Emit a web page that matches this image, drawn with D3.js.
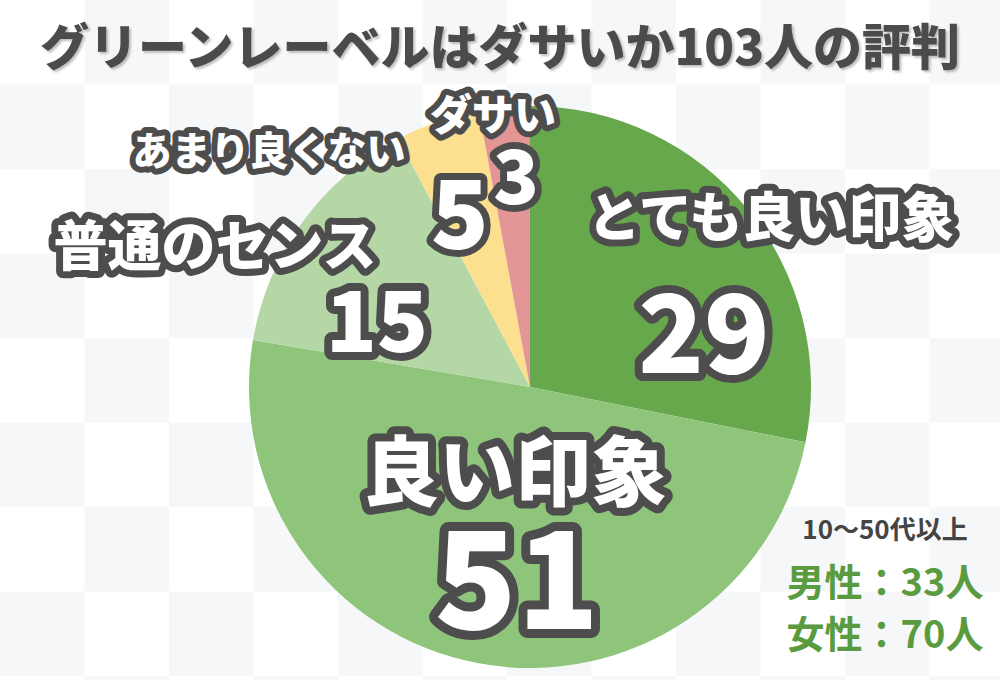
<!DOCTYPE html>
<html><head><meta charset="utf-8">
<script src="https://cdn.jsdelivr.net/npm/d3@7/dist/d3.min.js"></script>
<style>
html,body{margin:0;padding:0;background:#fff;}
svg{display:block;font-family:"Noto Sans CJK JP","Noto Sans",sans-serif;}
.lab{fill:#fff;stroke:#4d4d4d;paint-order:stroke;stroke-linejoin:round;font-weight:900;text-anchor:middle;dominant-baseline:central;}
</style>
</head><body>
<svg id="c" width="1000" height="680"></svg>
<script>
const title = "グリーンレーベルはダサいか103人の評判";
const categories = ["とても良い印象", "良い印象", "普通のセンス", "あまり良くない", "ダサい"];
const values = [29, 51, 15, 5, 3];
const colors = ["#67a84c", "#8fc47b", "#b5d7a5", "#fde08f", "#e49697"];
const noteLines = ["10〜50代以上", "男性：33人", "女性：70人"];

const svg = d3.select("#c");
const W = 1000, H = 680;

// checkered background
const sq = 84.5;
const bg = svg.append("g");
for (let r = 0; r * sq < H; r++) {
  for (let c = 0; c * sq < W; c++) {
    if ((r + c) % 2 === 1) {
      bg.append("rect").attr("x", c * sq).attr("y", r * sq)
        .attr("width", sq).attr("height", sq).attr("fill", "#f5f7f9");
    }
  }
}

// title
const defs = svg.append("defs");
const f = defs.append("filter").attr("id", "sh").attr("x", "-5%").attr("y", "-20%").attr("width", "110%").attr("height", "140%");
f.append("feDropShadow").attr("dx", 2).attr("dy", 2).attr("stdDeviation", 1).attr("flood-color", "#000").attr("flood-opacity", 0.25);
svg.append("text").text(title)
  .attr("x", 500).attr("y", 43)
  .attr("text-anchor", "middle").attr("dominant-baseline", "central")
  .attr("font-size", 49).attr("font-weight", 900).attr("fill", "#4b4b4b")
  .attr("filter", "url(#sh)");

// pie
const cx = 530, cy = 387, R = 281;
const pie = d3.pie().sort(null).value(d => d)(values);
const arc = d3.arc().innerRadius(0).outerRadius(R);
const g = svg.append("g").attr("transform", `translate(${cx},${cy})`);
g.selectAll("path").data(pie).join("path")
  .attr("d", arc).attr("fill", (d, i) => colors[i]);

// labels layout
const layout = [
  {c: [771, 214], cs: 53, v: [704, 326], vs: 108, sw: 14},
  {c: [515, 467], cs: 76, v: [517, 570], vs: 135, sw: 16},
  {c: [215, 242], cs: 54, v: [377, 315], vs: 84, sw: 14},
  {c: [269, 148], cs: 39, v: [460, 207], vs: 95, sw: 12},
  {c: [493, 111], cs: 42, v: [516, 171], vs: 75, sw: 12}
];
const lg = svg.append("g");
categories.forEach((cat, i) => {
  const L = layout[i];
  lg.append("text").attr("class", "lab").text(cat)
    .attr("x", L.c[0]).attr("y", L.c[1]).attr("font-size", L.cs)
    .attr("stroke-width", L.sw);
  lg.append("text").attr("class", "lab").text(values[i])
    .attr("x", L.v[0]).attr("y", L.v[1]).attr("font-size", L.vs)
    .attr("stroke-width", L.sw + 2);
});

// note
const note = svg.append("g").attr("font-weight", 700).attr("text-anchor", "middle").attr("dominant-baseline", "central");
note.append("text").text(noteLines[0]).attr("x", 885).attr("y", 527).attr("font-size", 26).attr("fill", "#444");
note.append("text").text(noteLines[1]).attr("x", 885).attr("y", 579).attr("font-size", 38).attr("fill", "#5b9b3f");
note.append("text").text(noteLines[2]).attr("x", 885).attr("y", 631).attr("font-size", 38).attr("fill", "#5b9b3f");
</script>
</body></html>
